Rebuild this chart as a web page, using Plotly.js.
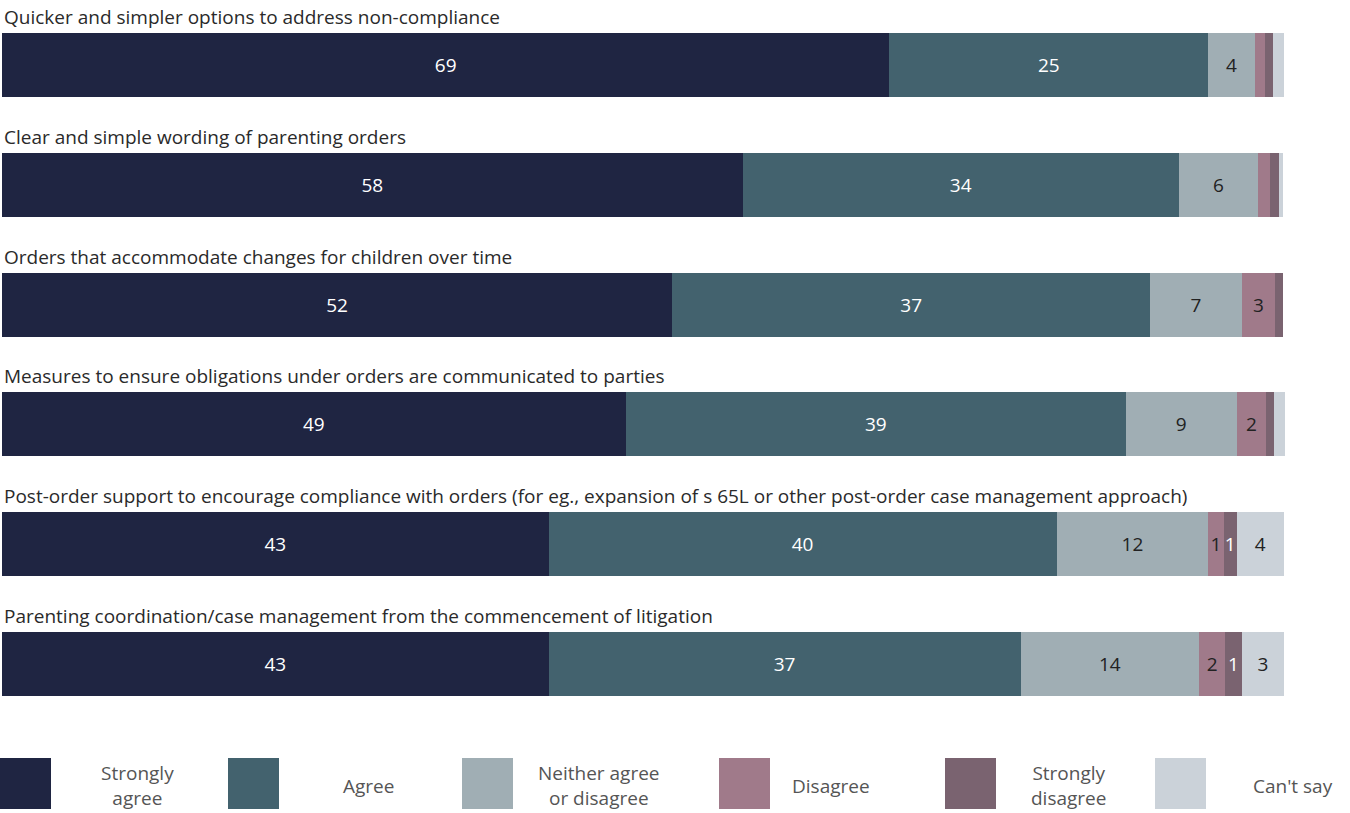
<!DOCTYPE html>
<html>
<head>
<meta charset="utf-8">
<script src="https://cdn.plot.ly/plotly-3.0.1.min.js"></script>
<style>html,body{margin:0;padding:0;background:#fff;}#chart{width:1350px;height:813px;}</style>
</head>
<body>
<div id="chart"></div>
<script>
// Statements (top to bottom)
const categories = [
  "Quicker and simpler options to address non-compliance",
  "Clear and simple wording of parenting orders",
  "Orders that accommodate changes for children over time",
  "Measures to ensure obligations under orders are communicated to parties",
  "Post-order support to encourage compliance with orders (for eg., expansion of s 65L or other post-order case management approach)",
  "Parenting coordination/case management from the commencement of litigation"
];
const seriesNames = ["Strongly agree", "Agree", "Neither agree or disagree", "Disagree", "Strongly disagree", "Can't say"];
const legendLabels = ["Strongly<br>agree", "Agree", "Neither agree<br>or disagree", "Disagree", "Strongly<br>disagree", "Can't say"];
const stronglyAgree    = [69, 57.6, 52.1, 48.5, 42.5, 42.5];
const agree            = [24.8, 33.9, 37.2, 38.9, 39.5, 36.7];
const neither          = [3.6, 6.2, 7.1, 8.6, 11.8, 13.9];
const disagree         = [0.8, 0.9, 2.6, 2.3, 1.2, 2.0];
const stronglyDisagree = [0.6, 0.7, 0.6, 0.6, 1.0, 1.3];
const cantSay          = [0.9, 0.3, 0.0, 0.9, 3.7, 3.3];

const seriesValues = [stronglyAgree, agree, neither, disagree, stronglyDisagree, cantSay];
const colors = ["#1f2542", "#43626e", "#a0aeb4", "#a07a8a", "#7a6370", "#cbd2d9"];
const textColors = ["#ffffff", "#ffffff", "#222222", "#222222", "#ffffff", "#222222"];
const FONT = "'Open Sans', 'Noto Sans', sans-serif";

const traces = seriesValues.map((vals, i) => ({
  type: "bar",
  orientation: "h",
  name: seriesNames[i],
  y: categories,
  x: vals,
  width: 0.535,
  marker: {color: colors[i], line: {width: 0}},
  text: vals.map(v => v >= 1 ? String(Math.round(v)) : ""),
  textposition: "inside",
  insidetextanchor: "middle",
  textangle: 0,
  constraintext: "none",
  textfont: {family: FONT, size: 19, color: textColors[i]},
  hoverinfo: "name+x",
  showlegend: false
}));

// pixel -> paper helpers (plot area: x 2..1288, y 5..724)
const L = 2, R = 1288, T = 5, B = 724;
const px = p => (p - L) / (R - L);
const py = p => (B - p) / (B - T);

const annotations = categories.map(c => ({
  text: c, x: 0, xref: "paper", xanchor: "left",
  y: c, yref: "y", yanchor: "middle", yshift: 48,
  showarrow: false,
  font: {family: FONT, size: 19, color: "#2a2a2a"}
}));

const legendSquares = [0, 228, 462, 719, 945, 1155];
const legendTextX = [137, 368, 599, 831, 1068, 1293];
const shapes = [];
legendSquares.forEach((x0, i) => {
  shapes.push({type: "rect", xref: "paper", yref: "paper",
    x0: px(x0), x1: px(x0 + 51), y0: py(809), y1: py(758),
    fillcolor: colors[i], line: {width: 0}});
  annotations.push({text: legendLabels[i], xref: "paper", yref: "paper",
    x: px(legendTextX[i]), y: py(786), xanchor: "center", yanchor: "middle",
    showarrow: false, align: "center",
    font: {family: FONT, size: 19, color: "#555555"}});
});

const layout = {
  width: 1350, height: 813,
  margin: {l: L, r: 1350 - R, t: T, b: 813 - B},
  paper_bgcolor: "#ffffff", plot_bgcolor: "#ffffff",
  barmode: "stack",
  xaxis: {range: [0, 100], visible: false, fixedrange: true},
  yaxis: {autorange: false, range: [5.5, -0.5], visible: false, type: "category", categoryorder: "array", categoryarray: categories},
  showlegend: false,
  annotations: annotations,
  shapes: shapes,
  uniformtext: {mode: false}
};

Plotly.newPlot("chart", traces, layout, {displayModeBar: false, staticPlot: true});
</script>
</body>
</html>
